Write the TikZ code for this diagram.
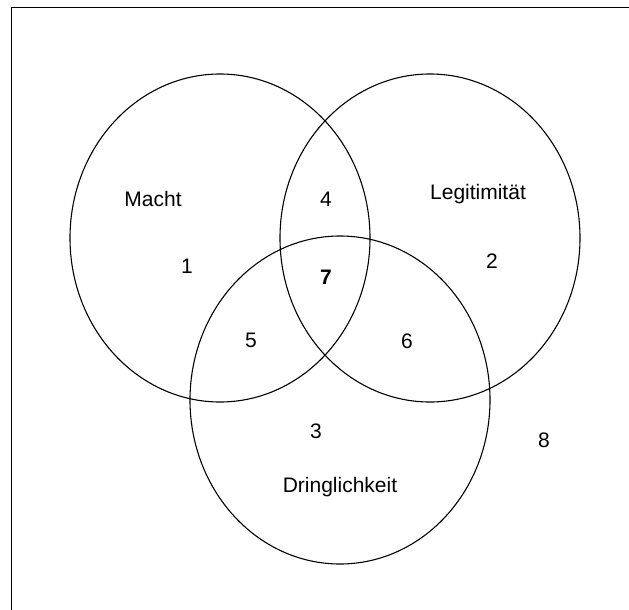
\documentclass[tikz,border=0pt]{standalone}
\usepackage{fontspec}
\setmainfont{Liberation Sans}
\begin{document}
\begin{tikzpicture}[x=1pt,y=-1pt,
  lbl/.style={inner sep=0pt,font=\fontsize{21}{24}\selectfont},
  ring/.style={draw=black,line width=1.1pt}]
\useasboundingbox (0,0) rectangle (629,610);
\coordinate (bl) at (11.5,612);
\coordinate (tl) at (11.5,7.5);
\coordinate (tr) at (631,7.5);
\draw[line width=1.3pt] (bl) -- (tl) -- (tr);
\coordinate (cM) at (220,238);
\coordinate (cL) at (430,238);
\coordinate (cD) at (340,400);
\draw[ring] (cM) ellipse [x radius=150pt, y radius=164pt];
\draw[ring] (cL) ellipse [x radius=150pt, y radius=164pt];
\draw[ring] (cD) ellipse [x radius=150pt, y radius=164pt];
\node[lbl] (macht) at (153,199) {Macht};
\node[lbl] (n4) at (326,199) {4};
\node[lbl] (legit) at (478,194) {Legitimität};
\node[lbl] (n1) at (187,266) {1};
\node[lbl,font=\fontsize{21}{24}\selectfont\bfseries] (n7) at (326,277) {7};
\node[lbl] (n2) at (492,261) {2};
\node[lbl] (n5) at (251,340) {5};
\node[lbl] (n6) at (407,341) {6};
\node[lbl] (n3) at (316,431) {3};
\node[lbl] (n8) at (544,440) {8};
\node[lbl] (dring) at (340,487) {Dringlichkeit};
\end{tikzpicture}
\end{document}
